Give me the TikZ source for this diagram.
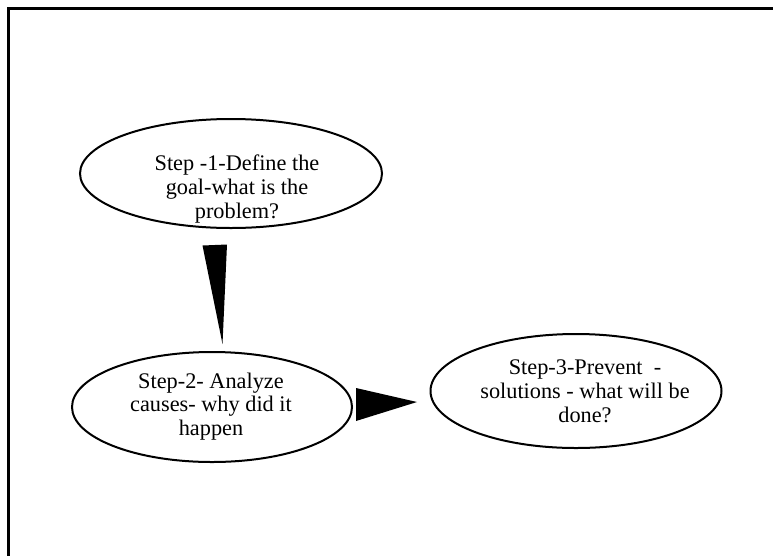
\documentclass[tikz,border=0pt]{standalone}
\usepackage{fontspec}
\setmainfont{Liberation Serif}
\usetikzlibrary{shapes.geometric,calc}
\begin{document}
\begin{tikzpicture}[x=1pt,y=-1pt,
  stepoval/.style={ellipse, draw, line width=2pt, inner sep=0pt},
  steptext/.style={align=center, inner sep=0pt,
    font=\fontsize{22.3}{23.8}\selectfont},
  wedge/.style={fill=black, draw=none}]
  \useasboundingbox (0,0) rectangle (773,555);
  % frame (only its top and left edges fall inside the page)
  \draw[line width=2.2pt] (8.5,560) -- (8.5,8.5) -- (780,8.5);

  % the three steps
  \node[stepoval, minimum width=302, minimum height=109] (s1) at (231,173.5) {};
  \node[stepoval, minimum width=280, minimum height=110] (s2) at (212,407) {};
  \node[stepoval, minimum width=291, minimum height=114] (s3) at (576,391) {};

  \node[steptext] (t1) at (237,189) {Step -1-Define the\\goal-what is the\\problem?};
  \node[steptext] (t2) at (211,406.5) {Step-2- Analyze\\causes- why did it\\happen};
  \node[steptext] (t3) at (585,391) {Step-3-Prevent\ \ -\\solutions - what will be\\done?};

  % wedge-shaped connectors
  \coordinate (w1a) at ($(s1.south)+(-28.5,16.5)$);
  \coordinate (w1b) at ($(s1.south)+(-4,15.5)$);
  \coordinate (w1c) at ($(s2.north)+(10.5,-7)$);
  \fill[wedge] (w1a) -- (w1b) -- (w1c) -- cycle;

  \coordinate (w2a) at ($(s2.east)+(3,-19)$);
  \coordinate (w2b) at ($(s2.east)+(3,14)$);
  \coordinate (w2c) at ($(s3.west)+(-12.5,11)$);
  \fill[wedge] (w2a) -- (w2b) -- (w2c) -- cycle;
\end{tikzpicture}
\end{document}
